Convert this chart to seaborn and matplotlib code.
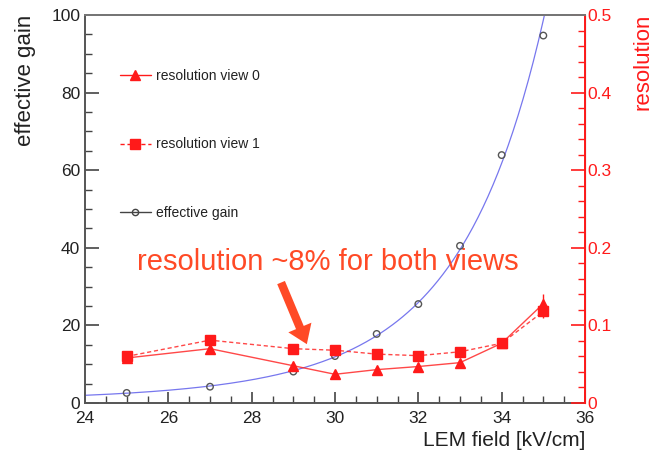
import numpy as np
import pandas as pd
import matplotlib
matplotlib.use("Agg")
import matplotlib.pyplot as plt
from matplotlib.lines import Line2D
from matplotlib.ticker import MultipleLocator, FuncFormatter
import seaborn as sns

# campo LEM (kV/cm) e valores
campo = [25, 27, 29, 30, 31, 32, 33, 34, 35]
ganho = [2.6, 4.2, 8.1, 12.1, 17.8, 25.5, 40.5, 63.9, 94.7]
res_view0 = [0.058, 0.070, 0.048, 0.037, 0.043, 0.047, 0.052, 0.077, 0.128]
res_view1 = [0.060, 0.081, 0.070, 0.068, 0.063, 0.061, 0.066, 0.077, 0.118]
err_view0 = [0.005, 0.004, 0.004, 0.003, 0.003, 0.004, 0.004, 0.004, 0.012]
err_view1 = [0.005, 0.004, 0.003, 0.003, 0.003, 0.003, 0.003, 0.003, 0.008]

VERMELHO = "#ff1a1a"
LARANJA = "#ff4a26"

sns.set_style("ticks")
plt.rcParams["font.family"] = ["Liberation Sans", "DejaVu Sans"]

df = pd.DataFrame({"campo": campo, "ganho": ganho,
                   "res0": res_view0, "res1": res_view1})

# ajuste exponencial (log do ganho, grau 2) como na figura original
coef = np.polyfit(df["campo"], np.log(df["ganho"]), 2)
x_fit = np.linspace(24, 36, 300)
df_fit = pd.DataFrame({"campo": x_fit, "ganho": np.exp(np.polyval(coef, x_fit))})
df_fit = df_fit[df_fit["ganho"] <= 101]

fig = plt.figure(figsize=(6.54, 4.61), dpi=100)
ax = fig.add_axes([85 / 654, 1 - 403 / 461, 500 / 654, 388 / 461])
ax2 = ax.twinx()

sns.lineplot(data=df_fit, x="campo", y="ganho", ax=ax, color="#7777ee", lw=0.9)
sns.scatterplot(data=df, x="campo", y="ganho", ax=ax, marker="o", s=22,
                facecolor="none", edgecolor="#555555", linewidth=1.0, zorder=5)

sns.lineplot(data=df, x="campo", y="res0", ax=ax2, color=VERMELHO, lw=1.0, alpha=0.8)
sns.lineplot(data=df, x="campo", y="res1", ax=ax2, color=VERMELHO, lw=1.0, alpha=0.8,
             linestyle=(0, (3, 2)))
ax2.errorbar(campo, res_view0, yerr=err_view0, fmt="^", color=VERMELHO, ms=6.5,
             elinewidth=1, capsize=0)
ax2.errorbar(campo, res_view1, yerr=err_view1, fmt="s", color=VERMELHO, ms=6.5,
             elinewidth=1, capsize=0)

ax.set_xlim(24, 36)
ax.set_ylim(0, 100)
ax2.set_ylim(0, 0.5)

ax.xaxis.set_major_locator(MultipleLocator(2))
ax.xaxis.set_minor_locator(MultipleLocator(0.5))
ax.yaxis.set_major_locator(MultipleLocator(20))
ax.yaxis.set_minor_locator(MultipleLocator(5))
ax2.yaxis.set_major_locator(MultipleLocator(0.1))
ax2.yaxis.set_minor_locator(MultipleLocator(0.02))
ax2.yaxis.set_major_formatter(FuncFormatter(lambda v, p: "0" if abs(v) < 1e-9 else f"{v:.1f}"))

ax.tick_params(axis="both", which="major", direction="in", length=10, width=1.2,
               colors="#444444", labelsize=12.5, labelcolor="#222222")
ax.tick_params(axis="both", which="minor", direction="in", length=5, width=1.0,
               colors="#444444")
ax.tick_params(axis="x", which="major", length=8, pad=6)
ax2.tick_params(axis="y", which="major", direction="in", length=10, width=1.2,
                colors=VERMELHO, labelsize=12.5, pad=2)
ax2.tick_params(axis="y", which="minor", direction="in", length=5, width=1.0,
                colors=VERMELHO)

for nome in ["left", "bottom", "top"]:
    ax.spines[nome].set_color("#555555")
    ax.spines[nome].set_linewidth(1.4)
ax2.spines["right"].set_color(VERMELHO)
ax2.spines["right"].set_linewidth(1.4)
ax2.spines["left"].set_visible(False)
ax2.spines["top"].set_color("#777777")
ax2.spines["top"].set_linewidth(1.4)
ax2.spines["bottom"].set_visible(False)

ax.set_xlabel("")
ax.set_ylabel("")
ax2.set_ylabel("")
fig.text(585 / 654, 1 - 440 / 461, "LEM field [kV/cm]", ha="right", va="center",
         fontsize=15, color="#222222")
fig.text(26 / 654, 1 - 15 / 461, "effective gain", ha="center", va="top",
         rotation=90, fontsize=16, color="#222222")
fig.text(633 / 654, 1 - 14 / 461, "resolution", ha="left", va="top",
         rotation=90, fontsize=16, color=VERMELHO)

# anotação
ax.text(25.25, 36.3, "resolution ~8% for both views",
        ha="left", va="center", fontsize=21, color=LARANJA)
ax.annotate("", xy=(29.35, 14.5), xytext=(28.68, 31.7),
            arrowprops=dict(arrowstyle="simple,head_length=1.3,head_width=1.8,tail_width=0.6",
                            color=LARANJA, lw=0))

handles = [
    Line2D([], [], color=VERMELHO, marker="^", ms=6.5, lw=1.0),
    Line2D([], [], color=VERMELHO, marker="s", ms=6.5, lw=1.0, linestyle=(0, (3, 2))),
    Line2D([], [], color="#444444", marker="o", ms=4.5, mfc="none", lw=1.0),
]
leg = ax.legend(handles, ["resolution view 0", "resolution view 1", "effective gain"],
                loc="upper left", bbox_to_anchor=(0.07, 0.86), frameon=False,
                fontsize=10, labelspacing=3.9, handlelength=2.2, handletextpad=0.4,
                borderaxespad=0, borderpad=0)
for t in leg.get_texts():
    t.set_color("#222222")

fig.savefig("out.png", dpi=100)
